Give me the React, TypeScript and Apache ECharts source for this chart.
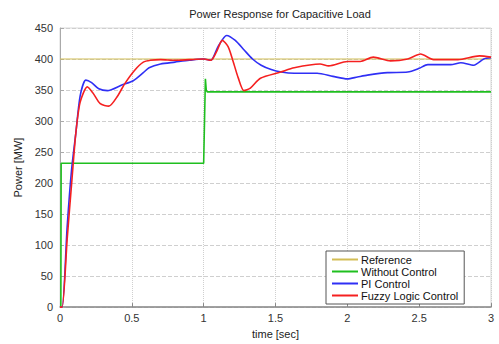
import React, { useEffect, useRef } from "react";
import * as echarts from "echarts";

const refT = [0, 3];
const refV = [400, 400];

const noCtrlT = [0.006, 0.008, 1.0, 1.012, 1.018, 1.025, 3.0];
const noCtrlV = [0, 232, 232, 368, 350, 347, 347];

const piT = [0, 0.015, 0.05, 0.08, 0.11, 0.14, 0.18, 0.22, 0.27, 0.33, 0.43, 0.51, 0.58, 0.62, 0.7, 0.8, 0.9, 1.0, 1.05, 1.1, 1.16, 1.22, 1.28, 1.34, 1.4, 1.47, 1.54, 1.63, 1.79, 1.9, 2.0, 2.07, 2.14, 2.28, 2.42, 2.5, 2.56, 2.72, 2.79, 2.88, 2.95, 3.0];
const piV = [0, 0, 130, 220, 280, 340, 366, 362, 352, 349, 358, 365, 378, 386, 392, 395, 398, 400, 398, 420, 438, 430, 415, 400, 390, 383, 379, 377, 377, 372, 368, 371, 374, 378, 379, 385, 391, 391, 394, 390, 400, 402];

const fuzzyT = [0, 0.015, 0.05, 0.084, 0.11, 0.14, 0.19, 0.23, 0.28, 0.34, 0.4, 0.45, 0.52, 0.58, 0.63, 0.7, 0.8, 0.9, 1.0, 1.05, 1.09, 1.13, 1.17, 1.2, 1.24, 1.28, 1.325, 1.395, 1.535, 1.63, 1.81, 1.87, 2.0, 2.09, 2.18, 2.3, 2.42, 2.51, 2.6, 2.77, 2.92, 3.0];
const fuzzyV = [0, 0, 110, 208, 280, 330, 355, 345, 328, 324, 340, 360, 382, 395, 398, 399, 398, 399, 400, 398, 412, 430, 420, 400, 370, 349, 353, 369, 379, 386, 392, 389, 396, 396, 403, 397, 400, 408, 399, 399, 405, 403];

const seriesNames = ["Reference", "Without Control", "PI Control", "Fuzzy Logic Control"];
const seriesColors = ["#d2bd55", "#1fbf1f", "#2f2ff5", "#f52020"];

const zip = (t: number[], v: number[]) => t.map((x, i) => [x, v[i]]);

export default function App() {
  const ref = useRef<HTMLDivElement>(null);
  useEffect(() => {
    if (!ref.current) return;
    const chart = echarts.init(ref.current, undefined, { renderer: "svg" });
    const data = [zip(refT, refV), zip(noCtrlT, noCtrlV), zip(piT, piV), zip(fuzzyT, fuzzyV)];
    chart.setOption({
      animation: false,
      backgroundColor: "#ffffff",
      textStyle: { fontFamily: "Liberation Sans, Arial, sans-serif" },
      title: {
        text: "Power Response for Capacitive Load",
        left: 275,
        textAlign: "center",
        top: 3,
        textStyle: { fontSize: 11, fontWeight: "normal", color: "#222" },
      },
      grid: { left: 60, right: 8, top: 28, bottom: 33, show: true, borderColor: "#d8d8d8", borderWidth: 1 },
      legend: {
        orient: "vertical",
        left: 326,
        top: 251,
        width: 163,
        padding: [3, 6, 3, 6],
        itemGap: 1,
        itemWidth: 26,
        itemHeight: 2,
        icon: "rect",
        borderColor: "#555",
        borderWidth: 1,
        backgroundColor: "#fff",
        textStyle: { fontSize: 11, color: "#111", padding: [0, 0, 0, -2] },
        data: seriesNames,
      },
      xAxis: {
        type: "value",
        min: 0,
        max: 3,
        interval: 0.5,
        name: "time [sec]",
        nameLocation: "middle",
        nameGap: 19,
        nameTextStyle: { fontSize: 11, color: "#222" },
        axisLine: { lineStyle: { color: "#888", width: 1.5 } },
        axisTick: { inside: true, length: 4, lineStyle: { color: "#888" } },
        axisLabel: { fontSize: 11, color: "#333", margin: 5 },
        splitLine: { show: true, lineStyle: { color: "#cfcfcf", type: "dotted" } },
      },
      yAxis: {
        type: "value",
        min: 0,
        max: 450,
        interval: 50,
        name: "Power [MW]",
        nameLocation: "middle",
        nameGap: 36,
        nameTextStyle: { fontSize: 11, color: "#222" },
        axisLine: { show: true, lineStyle: { color: "#aaa" } },
        axisTick: { inside: true, length: 4, lineStyle: { color: "#aaa" } },
        axisLabel: { fontSize: 11, color: "#333", margin: 7 },
        splitLine: { show: true, lineStyle: { color: "#cfcfcf", type: "dashed" } },
      },
      series: seriesNames.map((name, i) => ({
        name,
        type: "line",
        data: data[i],
        showSymbol: false,
        symbol: "none",
        smooth: i >= 2 ? 0.25 : false,
        color: seriesColors[i],
        lineStyle: { color: seriesColors[i], width: i === 0 ? 1.2 : 1.6 },
        z: i === 3 ? 5 : 3,
      })),
    });
    return () => chart.dispose();
  }, []);
  return <div ref={ref} style={{ width: 499, height: 344, position: "absolute", left: 0, top: 0 }} />;
}
